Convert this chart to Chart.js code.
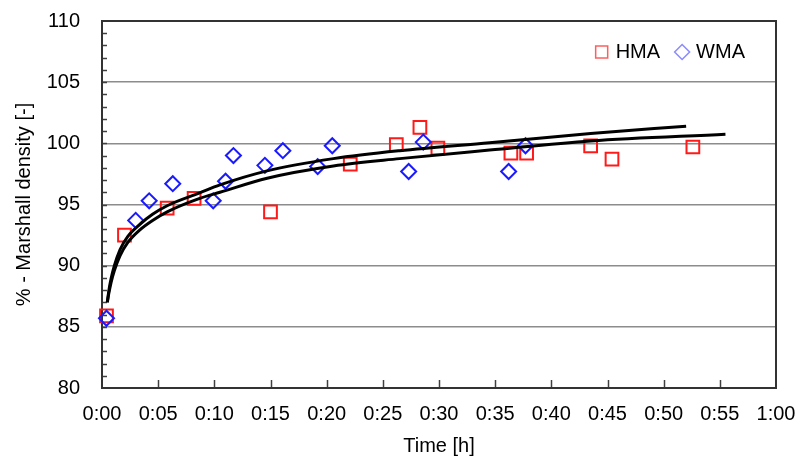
<!DOCTYPE html>
<html>
<head>
<meta charset="utf-8">
<script src="https://cdn.jsdelivr.net/npm/chart.js@4"></script>
<style>
  html, body { margin: 0; padding: 0; background: #fff; }
  #wrap { width: 802px; height: 459px; }
</style>
</head>
<body>
<div id="wrap"><canvas id="densityChart"></canvas></div>
<script>
// time in minutes, density in %
const hmaTime = [0.4, 2.0, 5.8, 8.2, 15.0, 22.1, 26.2, 28.3, 29.9, 36.4, 37.8, 43.5, 45.4, 52.6];
const hmaDensity = [85.9, 92.5, 94.7, 95.5, 94.4, 98.3, 99.9, 101.3, 99.6, 99.2, 99.2, 99.8, 98.7, 99.7];

const wmaTime = [0.4, 3.0, 4.2, 6.3, 9.9, 11.0, 11.7, 14.5, 16.1, 19.2, 20.5, 27.3, 28.6, 36.2, 37.7];
const wmaDensity = [85.7, 93.7, 95.3, 96.7, 95.3, 96.9, 99.0, 98.2, 99.4, 98.1, 99.8, 97.7, 100.1, 97.7, 99.8];

// the two trend curves
const upperTime = [0.47, 0.6, 0.8, 1.1, 1.6, 2.3, 3.4, 4.5, 5.8, 8.7, 10.5, 14.7, 20.6, 26.5, 34.5, 43.5, 52.0];
const upperDensity = [87.0, 87.9, 88.9, 90.0, 91.3, 92.4, 93.4, 94.2, 94.9, 95.95, 96.6, 97.75, 98.75, 99.4, 100.05, 100.8, 101.4];
const lowerTime = [0.47, 0.6, 0.8, 1.1, 1.6, 2.3, 3.4, 4.5, 5.8, 8.7, 10.5, 14.7, 20.6, 26.5, 34.5, 43.5, 55.5];
const lowerDensity = [87.0, 87.7, 88.6, 89.6, 90.8, 91.9, 92.95, 93.7, 94.4, 95.5, 96.0, 97.15, 98.15, 98.75, 99.45, 100.2, 100.75];

const timeTicks = ['0:00', '0:05', '0:10', '0:15', '0:20', '0:25', '0:30', '0:35', '0:40', '0:45', '0:50', '0:55', '1:00'];

const toPoints = (xs, ys) => xs.map((x, i) => ({ x: x, y: ys[i] }));

const FONT = 'Liberation Sans, Arial, sans-serif';
const CLEAR = 'rgba(0,0,0,0)';

// frame, inner tick marks and the in-plot legend
const framePlugin = {
  id: 'frame',
  beforeDatasetsDraw(chart) {
    const { ctx, chartArea: a, scales } = chart;
    ctx.save();
    ctx.strokeStyle = '#404040';
    ctx.lineWidth = 1.5;
    // minor y ticks every 1 %
    for (let v = 81; v < 110; v++) {
      const y = Math.round(scales.y.getPixelForValue(v)) + 0.5;
      ctx.beginPath();
      ctx.moveTo(a.left, y);
      ctx.lineTo(a.left + 5, y);
      ctx.stroke();
    }
    // x ticks every 5 min
    for (let m = 5; m < 60; m += 5) {
      const x = Math.round(scales.x.getPixelForValue(m)) + 0.5;
      ctx.beginPath();
      ctx.moveTo(x, a.bottom);
      ctx.lineTo(x, a.bottom - 8);
      ctx.stroke();
    }
    ctx.lineWidth = 2;
    ctx.strokeStyle = '#333';
    ctx.strokeRect(a.left, a.top, a.right - a.left, a.bottom - a.top);
    ctx.restore();
  },
  afterDraw(chart) {
    const { ctx, chartArea: a } = chart;
    ctx.save();
    ctx.font = '20px ' + FONT;
    ctx.textBaseline = 'middle';
    const y = a.top + 31;
    const items = [chart.data.datasets[0], chart.data.datasets[1]];
    let x = a.right - 31;
    for (let i = items.length - 1; i >= 0; i--) {
      const ds = items[i];
      const w = ctx.measureText(ds.label).width;
      x -= w;
      ctx.fillStyle = '#000';
      ctx.fillText(ds.label, x, y);
      const mx = x - 14;
      ctx.fillStyle = CLEAR;
      ctx.strokeStyle = ds.legendColor;
      ctx.lineWidth = 1.5;
      Chart.helpers.drawPoint(ctx, { pointStyle: ds.pointStyle, radius: ds.pointStyle === 'rect' ? 8.5 : 7.5, borderWidth: 1.5 }, mx, y);
      x = mx - 22;
    }
    ctx.restore();
  }
};

new Chart(document.getElementById('densityChart'), {
  type: 'scatter',
  data: {
    datasets: [
      {
        label: 'HMA',
        data: toPoints(hmaTime, hmaDensity),
        pointStyle: 'rect',
        pointRadius: 9,
        borderColor: '#ff1a1a',
        backgroundColor: CLEAR,
        borderWidth: 2,
        legendColor: 'rgba(255,40,40,0.75)',
        clip: false,
        order: 2
      },
      {
        label: 'WMA',
        data: toPoints(wmaTime, wmaDensity),
        pointStyle: 'rectRot',
        pointRadius: 7.5,
        borderColor: '#1a1aff',
        backgroundColor: CLEAR,
        borderWidth: 2,
        legendColor: 'rgba(60,60,255,0.6)',
        clip: false,
        order: 1
      },
      {
        label: 'fit 1',
        data: toPoints(upperTime, upperDensity),
        showLine: true,
        pointRadius: 0,
        borderColor: '#000',
        borderWidth: 3,
        cubicInterpolationMode: 'monotone',
        order: 0
      },
      {
        label: 'fit 2',
        data: toPoints(lowerTime, lowerDensity),
        showLine: true,
        pointRadius: 0,
        borderColor: '#000',
        borderWidth: 3,
        cubicInterpolationMode: 'monotone',
        order: 0
      }
    ]
  },
  options: {
    responsive: true,
    maintainAspectRatio: false,
    animation: false,
    layout: { padding: { top: 21, right: 26, bottom: 0, left: 0 } },
    plugins: {
      legend: { display: false },
      tooltip: { enabled: false }
    },
    scales: {
      x: {
        type: 'linear',
        min: 0,
        max: 60,
        afterFit: s => { s.height = 71; },
        ticks: {
          stepSize: 5,
          color: '#000',
          padding: 2,
          maxRotation: 0,
          autoSkip: false,
          font: { size: 20, family: FONT },
          callback: v => timeTicks[v / 5]
        },
        grid: { color: CLEAR, tickColor: CLEAR, drawTicks: true, tickLength: 12 },
        border: { display: false },
        title: {
          display: true,
          text: 'Time [h]',
          color: '#000',
          font: { size: 20, family: FONT },
          padding: { top: 0, bottom: 1 }
        }
      },
      y: {
        min: 80,
        max: 110,
        afterFit: s => { s.width = 102; },
        ticks: {
          stepSize: 5,
          color: '#000',
          padding: 2,
          font: { size: 20, family: FONT }
        },
        grid: {
          drawTicks: true,
          tickLength: 20,
          tickColor: CLEAR,
          lineWidth: 1.5,
          color: c => (c.tick.value === 80 || c.tick.value === 110) ? CLEAR : '#8c8c8c'
        },
        border: { display: false },
        title: {
          display: true,
          text: '% - Marshall density [-]',
          color: '#000',
          font: { size: 20, family: FONT },
          padding: { top: 12, bottom: 0 }
        }
      }
    }
  },
  plugins: [framePlugin]
});
</script>
</body>
</html>
